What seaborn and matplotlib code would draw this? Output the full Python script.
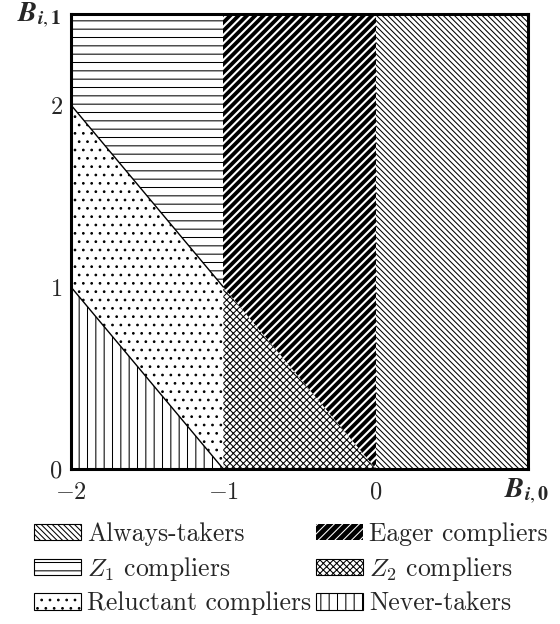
import matplotlib
matplotlib.use("Agg")
import matplotlib.pyplot as plt
import seaborn as sns
from matplotlib.patches import Patch

# ---- data: region vertices (B_i0, B_i1) ----
region_names = ["Always-takers", "$Z_1$ compliers", "Reluctant compliers",
                "Eager compliers", "$Z_2$ compliers", "Never-takers"]
always_x = [0, 1, 1, 0]
always_y = [0, 0, 2.5, 2.5]
eager_x = [-1, -1, 0, 0]
eager_y = [1, 2.5, 2.5, 0]
z1_x = [-2, -2, -1, -1]
z1_y = [2, 2.5, 2.5, 1]
z2_x = [-1, -1, 0]
z2_y = [0, 1, 0]
reluctant_x = [-2, -2, -1, -1]
reluctant_y = [1, 2, 1, 0]
never_x = [-2, -2, -1]
never_y = [0, 1, 0]
boundary1_x = [-2, -1]
boundary1_y = [1, 0]
boundary2_x = [-2, -1]
boundary2_y = [2, 1]
x_ticks = [-2, -1, 0]
x_ticklabels = ["$-2$", "$-1$", "$0$"]
y_ticks = [0, 1, 2]
y_ticklabels = ["$0$", "$1$", "$2$"]

sns.set_theme(style="white")
plt.rcParams["font.family"] = ["cmr10", "DejaVu Serif"]
plt.rcParams["mathtext.fontset"] = "cm"
plt.rcParams["axes.formatter.use_mathtext"] = True
plt.rcParams["hatch.linewidth"] = 0.75

fig = plt.figure(figsize=(5.6, 6.24), dpi=100)
ax = fig.add_axes([71/560, 1-469/624, (528-71)/560, (469-14)/624])

styles = {
    "Always-takers": dict(facecolor="white", edgecolor="black", hatch="\\" * 6),
    "$Z_1$ compliers": dict(facecolor="white", edgecolor="black", hatch="--"),
    "Reluctant compliers": dict(facecolor="white", edgecolor="black", hatch=".."),
    "Eager compliers": dict(facecolor="black", edgecolor="white", hatch="////"),
    "$Z_2$ compliers": dict(facecolor="white", edgecolor="black", hatch="xxxxx"),
    "Never-takers": dict(facecolor="white", edgecolor="black", hatch="||"),
}
polys = {
    "Always-takers": (always_x, always_y),
    "$Z_1$ compliers": (z1_x, z1_y),
    "Reluctant compliers": (reluctant_x, reluctant_y),
    "Eager compliers": (eager_x, eager_y),
    "$Z_2$ compliers": (z2_x, z2_y),
    "Never-takers": (never_x, never_y),
}
for name in region_names:
    xs, ys = polys[name]
    if name == "Eager compliers":
        plt.rcParams["hatch.linewidth"] = 1.5
    p = ax.fill(xs, ys, lw=0, **styles[name])[0]
    if name == "Eager compliers":
        if hasattr(p, "set_hatch_linewidth"):
            p.set_hatch_linewidth(1.5)
        plt.rcParams["hatch.linewidth"] = 0.75

sns.lineplot(x=boundary1_x, y=boundary1_y, ax=ax, color="black", lw=1.0)
sns.lineplot(x=boundary2_x, y=boundary2_y, ax=ax, color="black", lw=1.0)

ax.set_xlim(-2, 1)
ax.set_ylim(0, 2.5)
ax.set_xticks(x_ticks)
ax.set_xticklabels(x_ticklabels, fontsize=17.5)
ax.set_yticks(y_ticks)
ax.set_yticklabels(y_ticklabels, fontsize=17.5)
ax.tick_params(direction="in", length=7, width=1, color="#aaaaaa",
               bottom=True, left=True)
ax.tick_params(axis="x", pad=9)
ax.tick_params(axis="y", pad=6)
for s in ax.spines.values():
    s.set_linewidth(2.2)
    s.set_color("black")

fig.text(39/560, 1-15/624, r"$\mathbfit{B}_{\mathbfit{i},\mathbf{1}}$", fontsize=20.5,
         ha="center", va="center", math_fontfamily="stix")
fig.text(527/560, 1-491/624, r"$\mathbfit{B}_{\mathbfit{i},\mathbf{0}}$", fontsize=20.5,
         ha="center", va="center", math_fontfamily="stix")

handles = []
for n in region_names:
    st = styles[n]
    if n == "Eager compliers":
        h = Patch(label=n, facecolor="black", edgecolor="white", hatch="////", lw=0)
    else:
        h = Patch(label=n, facecolor="white", edgecolor="black", hatch=st["hatch"], lw=0.8)
    handles.append(h)
leg = fig.legend(handles=handles, ncol=2, loc="upper left",
                 bbox_to_anchor=(34/560, 1-522/624), frameon=False, fontsize=18.5,
                 handlelength=1.83, handleheight=0.6, handletextpad=0.23,
                 columnspacing=0.2, labelspacing=0.35, borderpad=0, borderaxespad=0)

fig.savefig("out.png", dpi=100)
